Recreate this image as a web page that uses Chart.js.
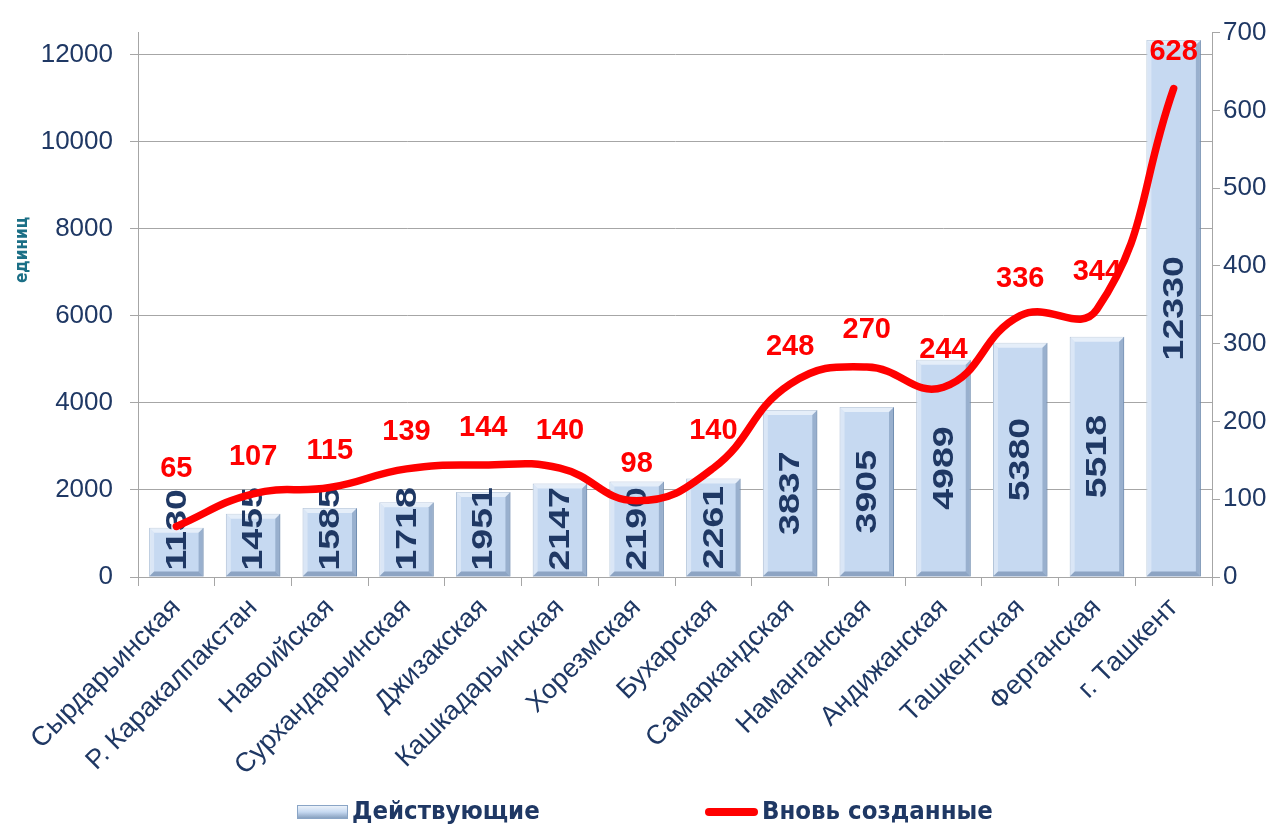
<!DOCTYPE html>
<html>
<head>
<meta charset="utf-8">
<script src="https://cdn.jsdelivr.net/npm/chart.js@4.4.1/dist/chart.umd.min.js"></script>
<style>
  html, body { margin: 0; padding: 0; background: #ffffff; }
  #wrap { width: 1282px; height: 825px; position: relative; }
</style>
</head>
<body>
<div id="wrap"><canvas id="c" width="1282" height="825"></canvas></div>
<script>
// ---- data ----
const categories = ["Сырдарьинская", "Р. Каракалпакстан", "Навоийская", "Сурхандарьинская", "Джизакская",
  "Кашкадарьинская", "Хорезмская", "Бухарская", "Самаркандская", "Наманганская", "Андижанская",
  "Ташкентская", "Ферганская", "г. Ташкент"];
const activeCounts = [1130, 1455, 1585, 1718, 1951, 2147, 2190, 2261, 3837, 3905, 4989, 5380, 5518, 12330];
const newCounts = [65, 107, 115, 139, 144, 140, 98, 140, 248, 270, 244, 336, 344, 628];
const leftTickValues = [0, 2000, 4000, 6000, 8000, 10000, 12000];
const rightTickValues = [0, 100, 200, 300, 400, 500, 600, 700];
const seriesNames = ["Действующие", "Вновь созданные"];
const axisTitle = "единиц";

const NAVY = '#1F3864';
const RED = '#FF0000';
const GRID = '#A6A6A6';
const NARROW = '"Liberation Sans Narrow", "DejaVu Sans Condensed", "Liberation Sans", Arial, sans-serif';
const SANS = '"Liberation Sans", Arial, sans-serif';

const BAR_FONT = 30, BAR_STRETCH = 1.25;
const barLabelTops = [];

const barDecor = {
  id: 'barDecor',
  afterDatasetDraw(chart, args) {
    if (args.index !== 0) return;
    const ctx = chart.ctx;
    const meta = chart.getDatasetMeta(0);
    meta.data.forEach((bar, i) => {
      const w = bar.width, x0 = bar.x - w / 2, x1 = bar.x + w / 2;
      const y0 = bar.y, y1 = bar.base;
      const b = 5;
      ctx.save();
      ctx.fillStyle = 'rgba(255,255,255,0.55)';
      ctx.beginPath();
      ctx.moveTo(x0, y0); ctx.lineTo(x1, y0); ctx.lineTo(x1 - b, y0 + b); ctx.lineTo(x0 + b, y0 + b); ctx.closePath(); ctx.fill();
      ctx.fillStyle = 'rgba(255,255,255,0.35)';
      ctx.beginPath();
      ctx.moveTo(x0, y0); ctx.lineTo(x0 + b, y0 + b); ctx.lineTo(x0 + b, y1 - b); ctx.lineTo(x0, y1); ctx.closePath(); ctx.fill();
      ctx.fillStyle = 'rgba(70,100,140,0.35)';
      ctx.beginPath();
      ctx.moveTo(x1, y0); ctx.lineTo(x1, y1); ctx.lineTo(x1 - b, y1 - b); ctx.lineTo(x1 - b, y0 + b); ctx.closePath(); ctx.fill();
      ctx.fillStyle = 'rgba(70,100,140,0.45)';
      ctx.beginPath();
      ctx.moveTo(x0, y1); ctx.lineTo(x1, y1); ctx.lineTo(x1 - b, y1 - b); ctx.lineTo(x0 + b, y1 - b); ctx.closePath(); ctx.fill();
      ctx.restore();

      const txt = String(activeCounts[i]);
      ctx.save();
      ctx.font = 'bold ' + BAR_FONT + 'px ' + SANS;
      const len = ctx.measureText(txt).width * BAR_STRETCH;
      let cy = (y0 + y1) / 2;
      if (cy + len / 2 > y1 - 6) cy = y1 - 6 - len / 2;
      barLabelTops[i] = cy - len / 2;
      ctx.translate(bar.x, cy);
      ctx.rotate(-Math.PI / 2);
      ctx.scale(BAR_STRETCH, 1);
      ctx.fillStyle = NAVY;
      ctx.textAlign = 'center';
      ctx.textBaseline = 'middle';
      ctx.fillText(txt, 0, 1);
      ctx.restore();
    });
  }
};

const extras = {
  id: 'extras',
  afterDraw(chart) {
    const ctx = chart.ctx;
    const meta = chart.getDatasetMeta(1);
    ctx.save();
    ctx.font = 'bold 29px ' + SANS;
    ctx.fillStyle = RED;
    ctx.textAlign = 'center';
    ctx.textBaseline = 'middle';
    meta.data.forEach((pt, i) => {
      let y = pt.y - 37;
      if (barLabelTops[i] !== undefined) y = Math.min(y, barLabelTops[i] - 20);
      ctx.fillText(String(newCounts[i]), pt.x, y);
    });
    ctx.restore();

    ctx.save();
    ctx.translate(23, 250);
    ctx.rotate(-Math.PI / 2);
    ctx.font = 'bold 17px ' + NARROW;
    ctx.fillStyle = '#1B6F86';
    ctx.textAlign = 'center';
    ctx.textBaseline = 'middle';
    ctx.fillText(axisTitle, 0, 0);
    ctx.restore();

    const ly = 812;
    ctx.save();
    const g = ctx.createLinearGradient(0, ly - 7, 0, ly + 7);
    g.addColorStop(0, '#F2F6FB');
    g.addColorStop(0.5, '#C6D9F1');
    g.addColorStop(1, '#7E98B8');
    ctx.fillStyle = g;
    ctx.fillRect(297, ly - 7, 51, 14);
    ctx.strokeStyle = '#8AA5C6';
    ctx.lineWidth = 1;
    ctx.strokeRect(297.5, ly - 6.5, 50, 13);
    ctx.strokeStyle = RED;
    ctx.lineWidth = 8;
    ctx.lineCap = 'round';
    ctx.beginPath();
    ctx.moveTo(709, ly);
    ctx.lineTo(754, ly);
    ctx.stroke();
    ctx.font = 'bold 25.5px ' + NARROW;
    ctx.fillStyle = NAVY;
    ctx.textAlign = 'left';
    ctx.textBaseline = 'middle';
    ctx.fillText(seriesNames[0], 352, ly);
    ctx.fillText(seriesNames[1], 762, ly);
    ctx.restore();
  }
};

new Chart(document.getElementById('c'), {
  data: {
    labels: categories,
    datasets: [
      {
        type: 'bar',
        label: seriesNames[0],
        data: activeCounts,
        yAxisID: 'y',
        order: 2,
        backgroundColor: '#C6D9F1',
        borderColor: '#8AA5C6',
        borderWidth: 1,
        barPercentage: 0.71,
        categoryPercentage: 1
      },
      {
        type: 'line',
        label: seriesNames[1],
        data: newCounts,
        yAxisID: 'y1',
        order: 1,
        borderColor: RED,
        borderWidth: 7.5,
        borderCapStyle: 'round',
        borderJoinStyle: 'round',
        tension: 0.45,
        pointRadius: 0,
        fill: false,
        clip: false
      }
    ]
  },
  options: {
    responsive: false,
    animation: false,
    layout: { padding: { top: 29, left: 0, right: 0, bottom: 0 } },
    plugins: { legend: { display: false }, tooltip: { enabled: false } },
    scales: {
      x: {
        offset: true,
        grid: { offset: true, drawOnChartArea: false, tickLength: 9, color: GRID },
        border: { color: GRID },
        ticks: {
          minRotation: 45, maxRotation: 45, autoSkip: false,
          color: NAVY, padding: 6,
          font: { size: 27, family: SANS }
        },
        afterFit(scale) { scale.height = 248; }
      },
      y: {
        position: 'left',
        min: 0, max: 12500,
        grid: { color: GRID, tickLength: 8, lineWidth: 1 },
        border: { color: GRID },
        afterBuildTicks(scale) { scale.ticks = leftTickValues.map(v => ({ value: v })); },
        ticks: { color: NAVY, padding: 17, font: { size: 26, family: SANS }, callback: v => String(v) },
        afterFit(scale) { scale.width = 138; }
      },
      y1: {
        position: 'right',
        min: 0, max: 700,
        grid: { drawOnChartArea: false, tickLength: 8, color: GRID },
        border: { color: GRID },
        afterBuildTicks(scale) { scale.ticks = rightTickValues.map(v => ({ value: v })); },
        ticks: { color: NAVY, padding: 3, font: { size: 26, family: SANS }, callback: v => String(v) },
        afterFit(scale) { scale.width = 70; }
      }
    }
  },
  plugins: [barDecor, extras]
});
</script>
</body>
</html>
